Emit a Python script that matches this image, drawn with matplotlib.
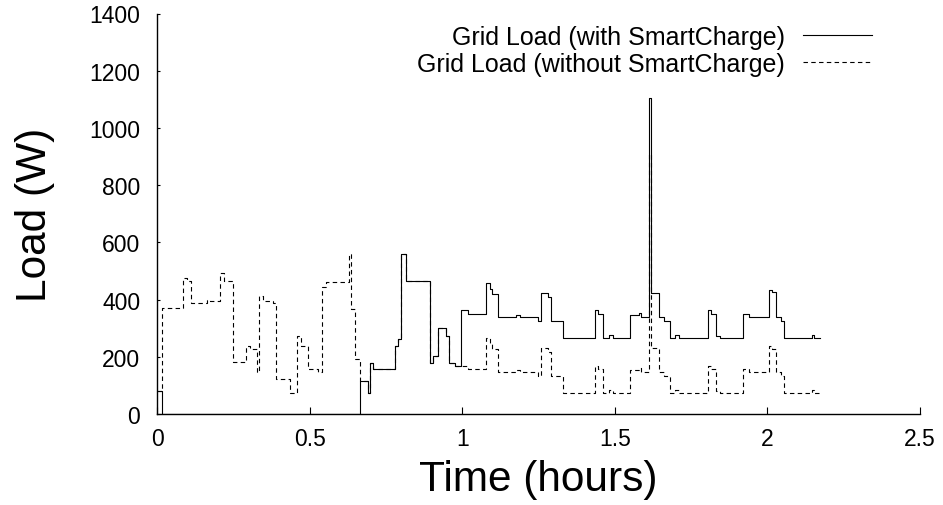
import matplotlib
matplotlib.use("Agg")
import matplotlib.pyplot as plt
import numpy as np

plt.rcParams['font.family'] = ['Liberation Sans', 'DejaVu Sans']

# step start times (hours), last entry is the end of the trace
hours = [0.000, 0.015, 0.086, 0.097, 0.113, 0.163, 0.173, 0.206, 0.219, 0.248,
         0.291, 0.304, 0.328, 0.335, 0.348, 0.381, 0.389, 0.435, 0.459, 0.473,
         0.495, 0.528, 0.539, 0.555, 0.629, 0.637, 0.648, 0.664, 0.692, 0.699,
         0.708, 0.779, 0.790, 0.801, 0.815, 0.893, 0.904, 0.921, 0.948, 0.956,
         0.975, 0.997, 1.019, 1.079, 1.090, 1.098, 1.117, 1.177, 1.188, 1.248,
         1.259, 1.280, 1.292, 1.330, 1.435, 1.444, 1.460, 1.480, 1.495, 1.551,
         1.578, 1.586, 1.611, 1.620, 1.646, 1.662, 1.682, 1.698, 1.711, 1.807,
         1.815, 1.833, 1.845, 1.921, 1.940, 2.004, 2.015, 2.028, 2.044, 2.055,
         2.146, 2.153, 2.172]

load_without = [79, 371, 475, 466, 388, 400, 394, 493, 466, 181,
                239, 228, 146, 414, 394, 388, 122, 74, 274, 239,
                157, 146, 443, 460, 559, 368, 192, 117, 74, 180,
                157, 239, 262, 559, 466, 180, 203, 299, 274, 180,
                169, 169, 157, 265, 245, 228, 146, 154, 146, 134,
                230, 216, 134, 74, 169, 157, 74, 84, 74, 154,
                161, 146, 909, 230, 146, 134, 74, 84, 74, 169,
                157, 82, 74, 157, 146, 239, 228, 146, 134, 74,
                84, 74]

load_with = [79, 0, 0, 0, 0, 0, 0, 0, 0, 0,
             0, 0, 0, 0, 0, 0, 0, 0, 0, 0,
             0, 0, 0, 0, 0, 0, 0, 117, 74, 180,
             157, 239, 262, 559, 466, 180, 203, 299, 274, 180,
             169, 364, 349, 457, 437, 420, 338, 347, 338, 326,
             423, 408, 326, 266, 364, 349, 266, 277, 266, 345,
             353, 338, 1105, 423, 338, 326, 266, 277, 266, 364,
             349, 274, 266, 349, 338, 435, 425, 338, 326, 266,
             277, 266]

xticks = [0, 0.5, 1, 1.5, 2, 2.5]
xtick_labels = ["0", "0.5", "1", "1.5", "2", "2.5"]
yticks = [0, 200, 400, 600, 800, 1000, 1200, 1400]

fig = plt.figure(figsize=(9.43, 5.06), dpi=100)
ax = fig.add_axes([157/943, 1 - 415/506, (920-157)/943, (415-14.5)/506])

l2, = ax.step(hours, load_without + [load_without[-1]], where='post',
              color='black', lw=0.8, ls=(0, (4, 3)))
l1, = ax.step(hours, load_with + [load_with[-1]], where='post',
              color='black', lw=0.8)

ax.set_xlim(0, 2.5)
ax.set_ylim(0, 1400)
ax.set_xticks(xticks)
ax.set_xticklabels(xtick_labels)
ax.set_yticks(yticks)
ax.tick_params(axis='x', direction='in', length=5, width=0.8, labelsize=16.5, pad=9)
ax.tick_params(axis='y', direction='in', length=2.5, width=0.8, labelsize=16.5, pad=12)
ax.spines['top'].set_visible(False)
ax.spines['right'].set_visible(False)
for s in ['left', 'bottom']:
    ax.spines[s].set_linewidth(1.0)

ax.set_xlabel("Time (hours)", fontsize=30.5, labelpad=7)
ax.set_ylabel("Load (W)", fontsize=30.5, labelpad=25)

leg = ax.legend([l1, l2], ["Grid Load (with SmartCharge)", "Grid Load (without SmartCharge)"],
                loc='upper right', bbox_to_anchor=(872/943, 1 - 26/506),
                bbox_transform=fig.transFigure, frameon=False, markerfirst=False,
                fontsize=18, handlelength=2.75, handletextpad=0.75,
                labelspacing=0.12, borderpad=0, borderaxespad=0)

fig.savefig("out.png", dpi=100)
